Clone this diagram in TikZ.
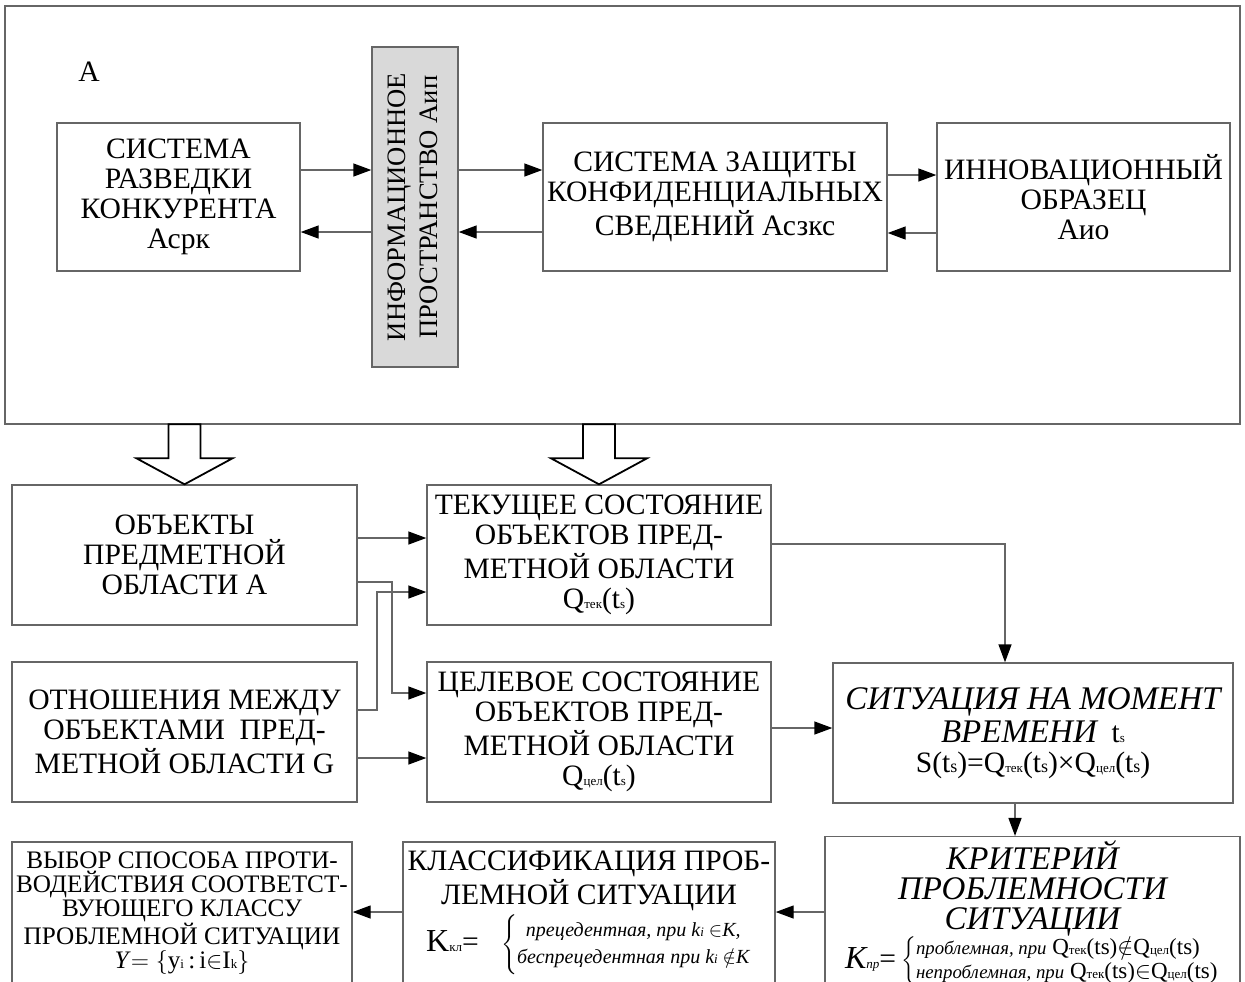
\documentclass[tikz,border=0pt]{standalone}
\usepackage{fontspec}
\setmainfont{Liberation Serif}
\usetikzlibrary{arrows.meta}

\tikzset{
  blk/.style={draw=black!60, line width=0.7pt, align=center, inner sep=2pt,
    font=\fontsize{14.8}{15}\selectfont},
  arr/.style={draw=black!60, line width=0.7pt,
    -{Triangle[length=9pt,width=6.5pt,color=black]}},
  hollow/.style={draw=black, line width=0.9pt, fill=white, line join=miter},
}
\newcommand{\lsub}[1]{{\fontsize{6.5}{7}\selectfont #1}}
\newcommand{\itbig}[1]{{\fontsize{16.5}{15}\selectfont\itshape #1}}

\begin{document}
\begin{tikzpicture}[x=0.5pt, y=-0.5pt]
  \useasboundingbox (0,0) rectangle (1245,981);
  \clip (0,0) rectangle (1245,981);
  % внешняя рамка А
  \node[draw=black!60, line width=0.7pt, minimum width=617.5pt, minimum height=209pt] (frm) at (622.5,215) {};
  \node[font=\fontsize{14.8}{15}\selectfont] (lblA) at (89,72) {А};
  % верхние блоки
  \node[blk, minimum width=121.5pt, minimum height=74pt] (srk) at (178.5,197) {СИСТЕМА\\РАЗВЕДКИ\\КОНКУРЕНТА\\Асрк};
  \node[blk, fill=black!15, minimum width=43pt, minimum height=160pt] (ip) at (415,207)
    {\rotatebox{90}{\fontsize{13.3}{16}\selectfont\begin{tabular}{@{}c@{}}ИНФОРМАЦИОННОЕ\\ПРОСТРАНСТВО Аип\end{tabular}}};
  \node[blk, minimum width=172pt, minimum height=74pt] (szks) at (715,197) {СИСТЕМА ЗАЩИТЫ\\КОНФИДЕНЦИАЛЬНЫХ\\СВЕДЕНИЙ Асзкс};
  \node[blk, minimum width=146.5pt, minimum height=74pt] (io) at (1083.5,197) {ИННОВАЦИОННЫЙ\\ОБРАЗЕЦ\\Аио};
  % средние блоки
  \node[blk, minimum width=172.5pt, minimum height=70pt] (obj) at (184.5,555) {ОБЪЕКТЫ\\ПРЕДМЕТНОЙ\\ОБЛАСТИ А};
  \node[blk, minimum width=172pt, minimum height=70pt] (tek) at (599,555)
    {ТЕКУЩЕЕ СОСТОЯНИЕ\\ОБЪЕКТОВ ПРЕД-\\МЕТНОЙ ОБЛАСТИ\\Q\lsub{тек}(t\lsub{s})};
  \node[blk, minimum width=172.5pt, minimum height=70pt] (otn) at (184.5,732) {ОТНОШЕНИЯ МЕЖДУ\\ОБЪЕКТАМИ~~ПРЕД-\\МЕТНОЙ ОБЛАСТИ G};
  \node[blk, minimum width=172pt, minimum height=70pt] (cel) at (599,732)
    {ЦЕЛЕВОЕ СОСТОЯНИЕ\\ОБЪЕКТОВ ПРЕД-\\МЕТНОЙ ОБЛАСТИ\\Q\lsub{цел}(t\lsub{s})};
  \node[blk, minimum width=200pt, minimum height=70pt] (sit) at (1033,733)
    {\itbig{СИТУАЦИЯ НА МОМЕНТ}\\[1.5pt]\itbig{ВРЕМЕНИ}~~t\lsub{s}\\S(t{\small s})=Q\lsub{тек}(t{\small s})×Q\lsub{цел}(t{\small s})};
  % нижние блоки
  \node[blk, font=\fontsize{12.6}{12}\selectfont, minimum width=170pt, minimum height=71pt] (vyb) at (182,913)
    {ВЫБОР СПОСОБА ПРОТИ-\\ВОДЕЙСТВИЯ СООТВЕТСТ-\\ВУЮЩЕГО КЛАССУ\\ПРОБЛЕМНОЙ СИТУАЦИИ\\
     \textit{Y}$=\big\{$y\lsub{i}\,:\,i$\in$I\lsub{k}$\big\}$};
  \node[blk, font=\fontsize{14.8}{15}\selectfont, minimum width=186pt, minimum height=71pt] (kls) at (589,913)
    {КЛАССИФИКАЦИЯ ПРОБ-\\ЛЕМНОЙ СИТУАЦИИ\\[1pt]
     {\fontsize{16}{15}\selectfont K}\lsub{кл}=~~~$\def\arraystretch{0.9}\left\{\begin{array}{@{}c@{}}
       \mbox{\fontsize{10}{10}\selectfont\itshape прецедентная, при k\lsub{i} $\in$K,}\\
       \mbox{\fontsize{10}{10}\selectfont\itshape беспрецедентная при k\lsub{i} $\notin$K}
     \end{array}\right.$};
  \node[blk, minimum width=207.5pt, minimum height=71pt] (krt) at (1032.5,913)
    {\itbig{КРИТЕРИЙ}\\\itbig{ПРОБЛЕМНОСТИ}\\\itbig{СИТУАЦИИ}\\[-1pt]
     {\fontsize{16}{15}\selectfont\itshape K\lsub{пр}}=\,$\def\arraystretch{0.8}\left\{\begin{array}{@{}l@{}}
       \mbox{\fontsize{11.5}{11}\selectfont{\fontsize{9.4}{9}\selectfont\itshape проблемная, при} Q\lsub{тек}(ts)$\notin$Q\lsub{цел}(ts)}\\
       \mbox{\fontsize{11.5}{11}\selectfont{\fontsize{9.4}{9}\selectfont\itshape непроблемная, при} Q\lsub{тек}(ts)$\in$Q\lsub{цел}(ts)}
     \end{array}\right.$};
  % блочные стрелки
  \draw[hollow] (obj.north) -- ++(-48,-26) -- ++(32,0) -- ++(0,-34) -- ++(32,0) -- ++(0,34) -- ++(32,0) -- cycle;
  \draw[hollow] (tek.north) -- ++(-48,-26) -- ++(32,0) -- ++(0,-34) -- ++(32,0) -- ++(0,34) -- ++(32,0) -- cycle;
  % связи
  \draw[arr] (srk.east |- 0,170) -- (ip.west |- 0,170);
  \draw[arr] (ip.west |- 0,232) -- (srk.east |- 0,232);
  \draw[arr] (ip.east |- 0,170) -- (szks.west |- 0,170);
  \draw[arr] (szks.west |- 0,232) -- (ip.east |- 0,232);
  \draw[arr] (szks.east |- 0,175) -- (io.west |- 0,175);
  \draw[arr] (io.west |- 0,233) -- (szks.east |- 0,233);
  \draw[arr] (obj.east |- 0,538) -- (tek.west |- 0,538);
  \draw[arr] (obj.east |- 0,582) -| (392,693) -- (cel.west |- 0,693);
  \draw[arr] (otn.east |- 0,710) -| (377,592) -- (tek.west |- 0,592);
  \draw[arr] (otn.east |- 0,758) -- (cel.west |- 0,758);
  \draw[arr] (cel.east |- 0,728) -- (sit.west |- 0,728);
  \draw[arr] (tek.east |- 0,544) -| (1005,0 |- sit.north);
  \draw[arr] (sit.south -| 1015,0) -- (krt.north -| 1015,0);
  \draw[arr] (krt.west |- 0,912) -- (kls.east |- 0,912);
  \draw[arr] (kls.west |- 0,912) -- (vyb.east |- 0,912);
\end{tikzpicture}
\end{document}
